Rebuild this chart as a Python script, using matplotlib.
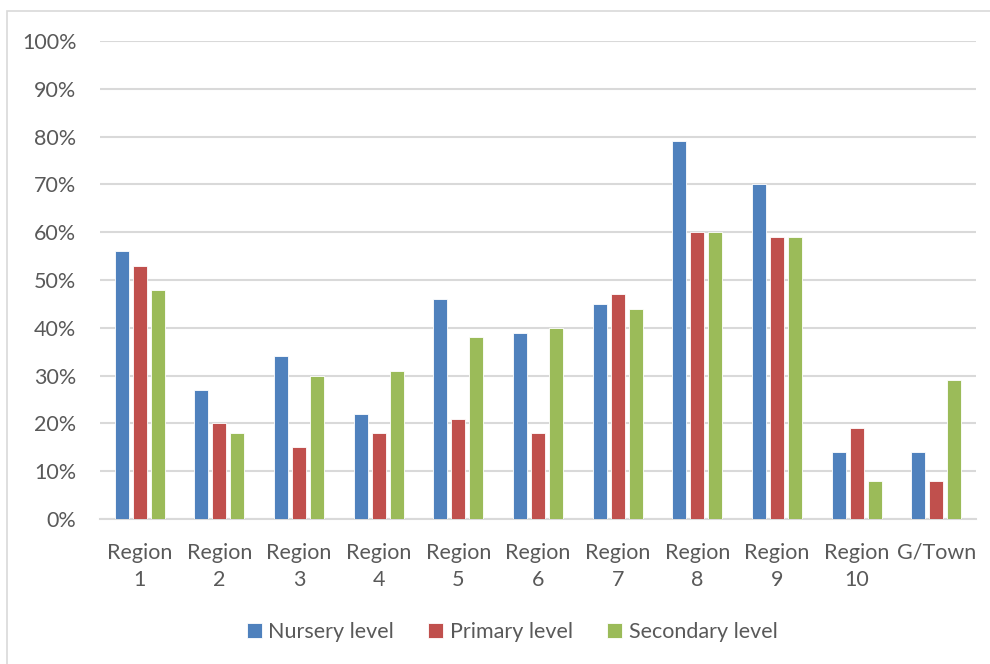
import matplotlib
matplotlib.use("Agg")
import matplotlib.pyplot as plt
from matplotlib.patches import Rectangle
import numpy as np

categories = ["Region\n1", "Region\n2", "Region\n3", "Region\n4", "Region\n5", "Region\n6",
              "Region\n7", "Region\n8", "Region\n9", "Region\n10", "G/Town"]
nursery = [56, 27, 34, 22, 46, 39, 45, 79, 70, 14, 14]
primary = [53, 20, 15, 18, 21, 18, 47, 60, 59, 19, 8]
secondary = [48, 18, 30, 31, 38, 40, 44, 60, 59, 8, 29]
series_names = ["Nursery level", "Primary level", "Secondary level"]
colors = ["#4f81bd", "#c0504d", "#9bbb59"]
yticks = [0, 10, 20, 30, 40, 50, 60, 70, 80, 90, 100]

plt.rcParams['font.family'] = ['Lato', 'DejaVu Sans']
text_color = "#595959"
grid_color = "#d9d9d9"
fs = 15.5

fig = plt.figure(figsize=(9.9, 6.64), dpi=100)
W, H = 990, 664
ax = fig.add_axes([100 / W, 1 - 519 / H, 876 / W, (519 - 41) / H])

# chart frame
fig.patches.append(Rectangle((7 / W, -0.01), 1.0, 1 - 11 / H + 0.01, transform=fig.transFigure,
                             fill=False, edgecolor="#d9d9d9", linewidth=1.2))

x = np.arange(len(categories))
bw = 0.176
offsets = [-0.226, 0.0, 0.226]
for vals, off, c, name in zip([nursery, primary, secondary], offsets, colors, series_names):
    ax.bar(x + off, vals, width=bw, color=c, edgecolor="white", linewidth=0.6, label=name, zorder=3)

ax.set_xlim(-0.5, len(categories) - 0.5)
ax.set_ylim(0, 100)
ax.set_yticks(yticks)
ax.set_yticklabels([f"{v}%" for v in yticks])
ax.yaxis.grid(True, color=grid_color, linewidth=1.5, zorder=0)
ax.set_axisbelow(True)
for s in ["left", "right", "top"]:
    ax.spines[s].set_visible(False)
ax.spines["bottom"].set_color(grid_color)
ax.spines["bottom"].set_linewidth(1.5)
ax.tick_params(axis="both", length=0, colors=text_color, labelsize=fs)
ax.tick_params(axis="y", pad=17)
ax.tick_params(axis="x", pad=17)
ax.set_xticks(x)
ax.set_xticklabels(categories, linespacing=1.45, va="top")

handles, labels = ax.get_legend_handles_labels()
leg = fig.legend(handles, labels, loc="center", bbox_to_anchor=(512 / W, 1 - 632 / H), ncol=3,
                 frameon=False, fontsize=fs, handlelength=0.7, handleheight=0.7,
                 handletextpad=0.3, columnspacing=1.6, labelcolor=text_color)

fig.savefig("out.png", dpi=100, facecolor="white")
